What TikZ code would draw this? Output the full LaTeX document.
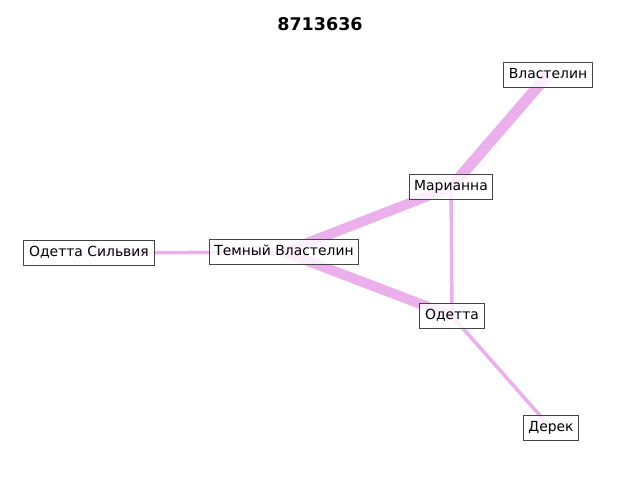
\documentclass[tikz,border=0pt]{standalone}
\usepackage{fontspec}
\setmainfont{DejaVu Sans}
\usepackage{tikz}
\usetikzlibrary{backgrounds}

\definecolor{edgeviolet}{RGB}{235,176,235}
\definecolor{boxgray}{RGB}{68,68,68}

\begin{document}
\begin{tikzpicture}[
  person/.style={draw=boxgray, line width=1pt, rectangle, fill=white, fill opacity=0.8, text opacity=1,
    inner xsep=5.2pt, inner ysep=5pt, text height=11.2pt, text depth=3.4pt, font=\fontsize{13.9}{16}\selectfont},
  tie/.style={edgeviolet, line cap=butt}
]
\useasboundingbox (0,0) rectangle (640pt,-480pt);

\node[xshift=320pt,yshift=-24pt,font=\fontsize{17.5}{20}\selectfont\bfseries] (title) {8713636};

\node[xshift=548pt,yshift=-75pt,person] (vlastelin) {Властелин};
\node[xshift=451pt,yshift=-187pt,person] (marianna) {Марианна};
\node[xshift=284pt,yshift=-252pt,person] (temny) {Темный Властелин};
\node[xshift=89pt,yshift=-253pt,person] (silvia) {Одетта Сильвия};
\node[xshift=452pt,yshift=-316pt,person] (odetta) {Одетта};
\node[xshift=551pt,yshift=-428pt,person] (derek) {Дерек};

\begin{pgfonlayer}{background}
\draw[tie, line width=11pt] (marianna.center) -- (vlastelin.center);
\draw[tie, line width=10pt] (temny.center) -- (marianna.center);
\draw[tie, line width=10pt] (temny.center) -- (odetta.center);
\draw[tie, line width=3.5pt] (silvia.center) -- (temny.center);
\draw[tie, line width=3.5pt] (marianna.center) -- (odetta.center);
\draw[tie, line width=3.5pt] (odetta.center) -- (derek.center);
\end{pgfonlayer}
\end{tikzpicture}
\end{document}
